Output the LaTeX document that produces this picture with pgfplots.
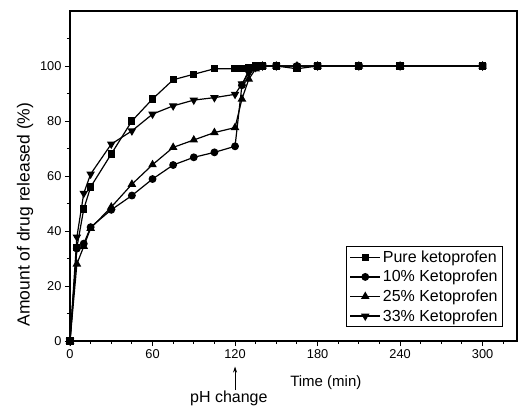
\documentclass[border=0pt]{standalone}
\usepackage{pgfplots}
\pgfplotsset{compat=1.18}
\usetikzlibrary{arrows.meta}
\usepackage{fontspec}
\setmainfont{Liberation Sans}
\begin{document}
\begin{tikzpicture}
\begin{axis}[
  name=ax,
  scale only axis,
  width=447pt, height=330pt,
  xmin=0, xmax=325, ymin=0, ymax=120,
  xtick={0,60,120,180,240,300},
  ytick={0,20,40,60,80,100},
  minor xtick={15,30,45,75,90,105,135,150,165,195,210,225,255,270,285,315},
  minor ytick={10,30,50,70,90,110},
  tick align=outside, xtick pos=bottom, ytick pos=left,
  major tick length=5pt, minor tick length=3pt,
  every tick/.style={black, line width=1pt},
  axis line style={line width=1.2pt},
  /pgf/number format/assume math mode=true,
  ticklabel style={font=\fontsize{12.8}{14}\selectfont},
  clip=false,
  legend style={at={(0.9687,0.0424)}, anchor=south east, draw=black, line width=0.8pt,
    font=\fontsize{16}{18.5}\selectfont, row sep=2.5pt, inner sep=2pt, inner xsep=3pt},
  legend cell align=left,
  legend image code/.code={\draw[mark repeat=2,mark phase=2,#1] plot coordinates {(0pt,0pt) (15pt,0pt) (30pt,0pt)};},
]
\addplot[black, line width=1.2pt, mark=square*, mark size=3pt, mark options={solid,fill=black}] coordinates {
(0,0) (5,34) (10,48) (15,56) (30,68) (45,80) (60,88) (75,95) (90,97) (105,99) (120,99) (125,99) (130,99.5) (135,100) (140,100) (150,100) (165,99) (180,100) (210,100) (240,100) (300,100)};
\addlegendentry{Pure ketoprofen}
\addplot[black, line width=1.2pt, mark=*, mark size=3.3pt, mark options={solid,fill=black}] coordinates {
(0,0) (5,33.6) (10,35.4) (15,41.4) (30,47.7) (45,52.9) (60,58.9) (75,64) (90,66.8) (105,68.6) (120,70.8) (125,93) (130,98.5) (135,99.5) (140,100) (150,100) (165,100) (180,100) (210,100) (240,100) (300,100)};
\addlegendentry{10\% Ketoprofen}
\addplot[black, line width=1.2pt, mark=triangle*, mark size=3.8pt, mark options={solid,fill=black}] coordinates {
(0,0) (5,28) (10,34.4) (15,41) (30,48.7) (45,57) (60,64.1) (75,70.4) (90,73.1) (105,75.8) (120,77.6) (125,88) (130,95.2) (135,99) (140,100) (150,100) (165,100) (180,100) (210,100) (240,100) (300,100)};
\addlegendentry{25\% Ketoprofen}
\addplot[black, line width=1.2pt, mark=triangle*, mark size=3.8pt, mark options={solid,fill=black,rotate=180}] coordinates {
(0,0) (5,37.8) (10,53.7) (15,60.7) (30,71.6) (45,76.4) (60,82.5) (75,85.5) (90,87.6) (105,88.5) (120,89.7) (125,93.5) (130,97.5) (135,99.5) (140,100) (150,100) (165,100) (180,100) (210,100) (240,100) (300,100)};
\addlegendentry{33\% Ketoprofen}
\node[rotate=90, font=\fontsize{17.5}{20}\selectfont] at (axis cs:-32.7,46) {Amount of drug released (\%)};
\node[font=\fontsize{15}{17}\selectfont] at (axis cs:186,-15.3) {Time (min)};
\draw[-{Stealth[length=6pt,width=4pt]}, line width=0.9pt] (axis cs:120,-17.9) -- (axis cs:120,-9.3);
\node[font=\fontsize{16}{18}\selectfont, anchor=base, inner sep=0pt] at (axis cs:115.5,-22.4) {pH change};
\end{axis}
\pgfresetboundingbox
\path ([xshift=-70pt,yshift=-67pt]ax.south west) rectangle ([xshift=1pt,yshift=11pt]ax.north east);
\end{tikzpicture}
\end{document}
